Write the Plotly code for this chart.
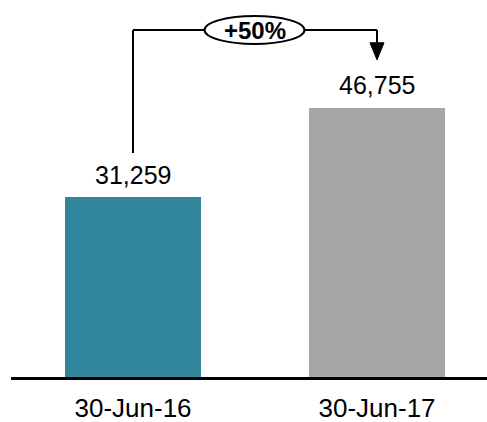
import plotly.graph_objects as go

# Data
categories = ["30-Jun-16", "30-Jun-17"]
values = [31259, 46755]
bar_colors = ["#31859C", "#A6A6A6"]
growth_label = "+50%"

W, H = 487, 422
margin = dict(l=11, r=0, t=0, b=45)
plot_w = W - margin["l"] - margin["r"]
plot_h = H - margin["t"] - margin["b"]

x_range = [-0.5, (plot_w - 122) / 244]
y_max = 65475
ux = (x_range[1] - x_range[0]) / plot_w   # data units per pixel (x)
uy = y_max / plot_h                       # data units per pixel (y)

font_family = "Liberation Sans, Arial, sans-serif"

fig = go.Figure()
fig.add_trace(go.Bar(
    x=[0, 1], y=values, marker=dict(color=bar_colors, line=dict(width=0)),
    width=0.557, hoverinfo="skip",
))

# value labels above bars
for i, v in enumerate(values):
    fig.add_annotation(x=i, y=v, text=f"{v:,}", showarrow=False,
                       yanchor="middle", yshift=22.5,
                       font=dict(family=font_family, size=25, color="#000000"))

# growth bracket
level = values[0] + (197 - 30) * uy
left_bottom = values[0] + 44 * uy
tip = values[1] + 48 * uy
head_h = 17 * uy
head_w = 7 * ux
line_style = dict(color="#000000", width=2)

fig.add_shape(type="line", x0=0, x1=0, y0=left_bottom, y1=level, line=line_style, layer="above")
fig.add_shape(type="line", x0=0, x1=1, y0=level, y1=level, line=line_style, layer="above")
fig.add_shape(type="line", x0=1, x1=1, y0=level, y1=tip + head_h, line=line_style, layer="above")
fig.add_shape(type="path",
              path=f"M {1 - head_w} {tip + head_h} L {1 + head_w} {tip + head_h} L 1 {tip} Z",
              fillcolor="#000000", line=dict(color="#000000", width=1), layer="above")

# oval badge with the growth figure
mid_x = 0.5 - 0.002
fig.add_shape(type="circle", x0=mid_x - 50 * ux, x1=mid_x + 50 * ux,
              y0=level - 14 * uy, y1=level + 14 * uy,
              fillcolor="#FFFFFF", line=dict(color="#000000", width=2), layer="above")
fig.add_annotation(x=mid_x, y=level, text=f"<b>{growth_label}</b>", showarrow=False,
                   yanchor="middle", font=dict(family=font_family, size=24, color="#000000"))

fig.update_layout(
    width=W, height=H, margin=margin,
    paper_bgcolor="#FFFFFF", plot_bgcolor="#FFFFFF",
    showlegend=False, bargap=0,
    xaxis=dict(range=x_range, tickvals=[0, 1], ticktext=categories,
               showgrid=False, zeroline=False, showline=True,
               linecolor="#000000", linewidth=3, ticks="",
               ticklabelstandoff=6, automargin=False,
               tickfont=dict(family=font_family, size=26, color="#000000"),
               fixedrange=True),
    yaxis=dict(range=[0, y_max], visible=False, fixedrange=True, automargin=False),
)

fig.write_html("out.html")
